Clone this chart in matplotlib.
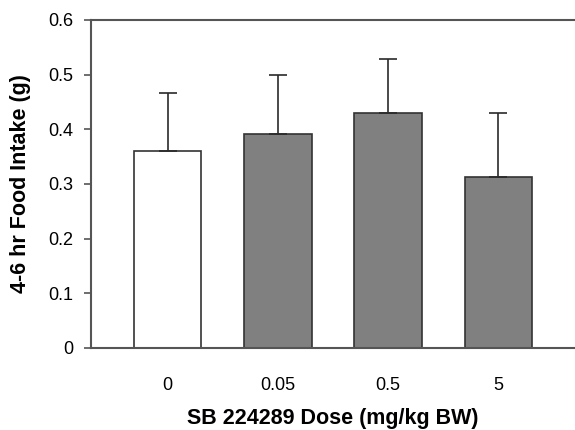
import numpy as np
import matplotlib.pyplot as plt

plt.rcParams['font.family'] = ['Liberation Sans', 'DejaVu Sans']

doses = ['0', '0.05', '0.5', '5']
intake = [0.36, 0.391, 0.430, 0.313]
sem = [0.107, 0.109, 0.099, 0.117]
colores = ['white', '#808080', '#808080', '#808080']

fig = plt.figure(figsize=(5.75, 4.3), dpi=100)
ax = fig.add_axes([91/575, 82/430, 1 - 91/575, 328/430])

x = np.arange(len(doses))
ax.bar(x, intake, width=0.61, color=colores, edgecolor='#333333', linewidth=1.2, zorder=2)
ax.errorbar(x, intake, yerr=[np.zeros(len(sem)), sem], fmt='none', ecolor='#2a2a2a',
            elinewidth=1.2, capsize=6.5, capthick=1.2, zorder=3)

ax.set_xlim(-0.695, 3.695)
ax.set_ylim(0, 0.6)
ax.set_yticks([0, 0.1, 0.2, 0.3, 0.4, 0.5, 0.6])
ax.set_yticklabels(['0', '0.1', '0.2', '0.3', '0.4', '0.5', '0.6'])
ax.set_xticks(x)
ax.set_xticklabels(doses)

for s in ['left', 'top', 'bottom']:
    ax.spines[s].set_color('#555555')
    ax.spines[s].set_linewidth(1.5)
ax.spines['right'].set_visible(False)

ax.tick_params(axis='y', direction='out', length=5, width=1.2, color='#555555',
               labelsize=13, pad=8)
ax.tick_params(axis='x', length=0, labelsize=13, pad=21)

ax.set_xlabel('SB 224289 Dose (mg/kg BW)', fontsize=15.5, fontweight='bold', labelpad=10)
ax.set_ylabel('4-6 hr Food Intake (g)', fontsize=15.5, fontweight='bold', labelpad=12)

fig.savefig('out.png', dpi=100)
